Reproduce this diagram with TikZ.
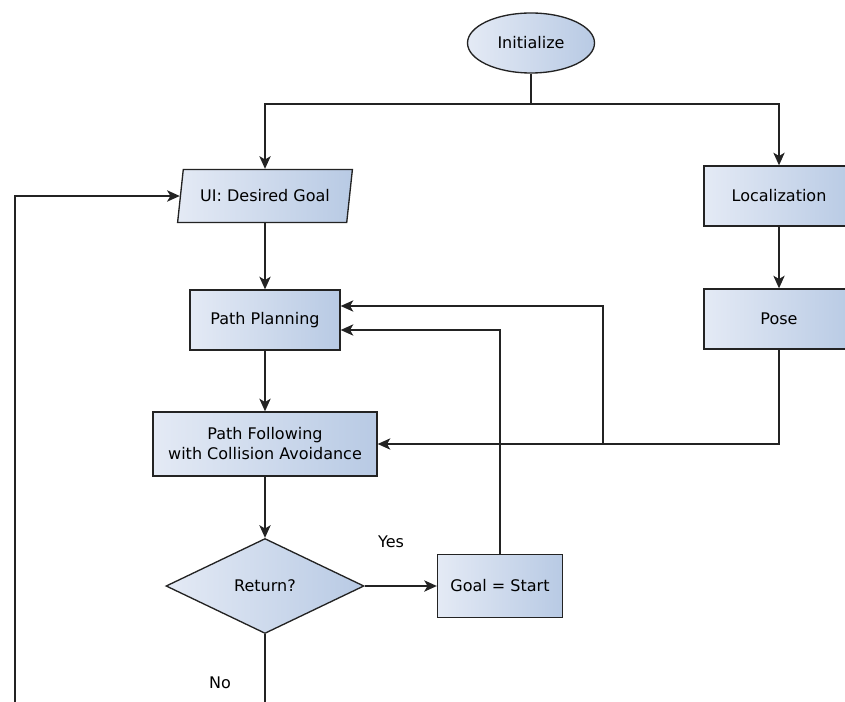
\documentclass[tikz,border=0pt]{standalone}
\usepackage{fontspec}
\setmainfont{DejaVu Sans}
\usetikzlibrary{shapes.geometric,arrows.meta}
\definecolor{boxLight}{RGB}{228,234,245}
\definecolor{boxDark}{RGB}{184,202,228}
\definecolor{lineGray}{RGB}{35,35,35}
\tikzstyle{boxBase}=[draw = lineGray, line width = 1pt, left color = boxLight, right color = boxDark, font = \fontsize{12}{15}\selectfont, align = center, inner sep = 1pt]
\tikzstyle{processBox}=[boxBase, shape = rectangle, minimum width = 112.5pt, minimum height = 45pt]
\tikzstyle{inputBox}=[boxBase, shape = trapezium, trapezium left angle = 73, trapezium right angle = 107, minimum width = 131.25pt, minimum height = 39.75pt, trapezium stretches]
\tikzstyle{startOval}=[boxBase, shape = ellipse, minimum width = 95.25pt, minimum height = 45pt]
\tikzstyle{decisionBox}=[boxBase, shape = diamond, minimum width = 148.5pt, minimum height = 71.25pt]

\begin{document}
\begin{tikzpicture}[x = 0.75pt, y = -0.75pt]
\tikzstyle{flowLine}=[draw = lineGray, line width = 1pt]
\tikzstyle{flowArrow}=[flowLine, -{Stealth[length = 9.5pt, width = 8.5pt, inset = 2.5pt]}]
\tikzstyle{plainText}=[font = \fontsize{12}{14}\selectfont]
\useasboundingbox (0,0) rectangle (845,702);
% nodes
\node[startOval] (init) at (531,43) {Initialize};
\node[inputBox] (goalInput) at (265,196) {UI: Desired Goal};
\node[processBox] (local) at (779,196) {Localization};
\node[processBox] (pose) at (779,319) {Pose};
\node[processBox] (planning) at (265,320) {Path Planning};
\node[processBox, minimum width = 168pt, minimum height = 48pt] (follow) at (265,444) {Path Following\\with Collision Avoidance};
\node[decisionBox] (ret) at (265,586) {Return?};
\node[processBox, minimum width = 93.75pt, minimum height = 47.25pt] (goalStart) at (500,586) {Goal = Start};
\node[plainText] (yesLabel) at (391,542) {Yes};
\node[plainText] (noLabel) at (220,683) {No};
\coordinate (split) at (531,104);
\coordinate (bend) at (603,444.5);
\coordinate (noEnd) at (265,702);
\coordinate (loopEnd) at (15,702);
% connectors
\draw[flowLine] (init.south) -- (split);
\draw[flowArrow] (split) -| (goalInput.north);
\draw[flowArrow] (split) -| (local.north);
\draw[flowArrow] (local) -- (pose);
\draw[flowArrow] (goalInput) -- (planning);
\draw[flowArrow] (planning) -- (follow);
\draw[flowArrow] (follow) -- (ret);
\draw[flowArrow] (ret) -- (goalStart);
\draw[flowArrow] (goalStart.north) |- ([yshift = -7.5pt]planning.east);
\draw[flowArrow] (pose.south) |- (follow.east);
\draw[flowArrow] (pose.south) |- (bend) |- ([yshift = 10.5pt]planning.east);
\draw[flowLine] (ret.south) -- (noEnd);
\draw[flowArrow] (loopEnd) |- (goalInput.west);
\end{tikzpicture}
\end{document}
